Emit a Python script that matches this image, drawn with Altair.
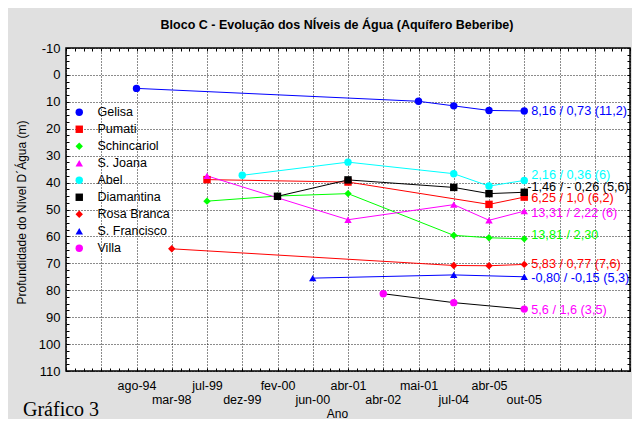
import json
import altair as alt
import pandas as pd

# ---------------- data ----------------
x_labels = ["ago-94", "mar-98", "jul-99", "dez-99", "fev-00", "jun-00",
            "abr-01", "abr-02", "mai-01", "jul-04", "abr-05", "out-05"]

series = ["Gelisa", "Pumati", "Schincariol", "S. Joana", "Abel",
          "Diamantina", "Rosa Branca", "S. Francisco", "Villa"]
marker_colors = ["#0000ff", "#ff0000", "#00ff00", "#ff00ff", "#00ffff",
                 "#000000", "#ff0000", "#0000ff", "#ff00ff"]
line_colors = ["#0000ff", "#ff0000", "#00ff00", "#ff00ff", "#00ffff",
               "#000000", "#ff0000", "#0000ff", "#000000"]
shapes = ["circle", "square", "diamond", "triangle-up", "circle",
          "square", "diamond", "triangle-up", "circle"]

gelisa_dates = ["ago-94", "mai-01", "jul-04", "abr-05", "out-05"]
gelisa_vals = [5.0, 9.8, 11.5, 13.2, 13.4]
pumati_dates = ["jul-99", "abr-01", "abr-05", "out-05"]
pumati_vals = [38.9, 39.8, 48.1, 45.4]
schin_dates = ["jul-99", "fev-00", "abr-01", "jul-04", "abr-05", "out-05"]
schin_vals = [46.9, 45.0, 44.1, 59.6, 60.5, 60.9]
joana_dates = ["jul-99", "abr-01", "jul-04", "abr-05", "out-05"]
joana_vals = [37.5, 53.8, 48.2, 54.0, 50.6]
abel_dates = ["dez-99", "abr-01", "jul-04", "abr-05", "out-05"]
abel_vals = [37.3, 32.4, 36.7, 41.3, 39.2]
diam_dates = ["fev-00", "abr-01", "jul-04", "abr-05", "out-05"]
diam_vals = [45.1, 39.0, 41.8, 44.1, 43.6]
rosa_dates = ["mar-98", "jul-04", "abr-05", "out-05"]
rosa_vals = [64.6, 70.8, 70.9, 70.4]
sfran_dates = ["jun-00", "jul-04", "out-05"]
sfran_vals = [75.5, 74.3, 75.0]
villa_dates = ["abr-02", "jul-04", "out-05"]
villa_vals = [81.3, 84.6, 87.0]

end_labels = ["8,16 / 0,73 (11,2)", "6,25 / 1,0 (6,2)", "13,81 / 2,30",
              "13,31 / 2,22 (6)", "2,16 / 0,36 (6)", "-1,46 / - 0,26 (5,6)",
              "5,83 / 0,77 (7,6)", "-0,80 / -0,15 (5,3)", "5,6 / 1,6 (3,5)"]
end_label_vals = [13.4, 45.9, 59.6, 51.3, 37.3, 41.8, 70.4, 75.4, 87.2]

# ---------------- tables ----------------
pos = {lab: i + 2 for i, lab in enumerate(x_labels)}
all_dates = [gelisa_dates, pumati_dates, schin_dates, joana_dates, abel_dates,
             diam_dates, rosa_dates, sfran_dates, villa_dates]
all_vals = [gelisa_vals, pumati_vals, schin_vals, joana_vals, abel_vals,
            diam_vals, rosa_vals, sfran_vals, villa_vals]

rows = []
for s, lc, ds, vs in zip(series, line_colors, all_dates, all_vals):
    for d, v in zip(ds, vs):
        rows.append({"series": s, "k": pos[d], "value": v, "lc": lc})
df = pd.DataFrame(rows)

lab_df = pd.DataFrame({"series": series, "text": end_labels,
                       "value": end_label_vals, "col": marker_colors,
                       "k": [pos["out-05"]] * len(series)})
lab_main = lab_df[lab_df["series"] != "Diamantina"]
lab_diam = lab_df[lab_df["series"] == "Diamantina"]

top_row = [x_labels[k - 2] if 2 <= k <= 13 and k % 2 == 0 else "" for k in range(17)]
bottom_df = pd.DataFrame({"k": [pos[l] for l in x_labels[1::2]],
                          "lab": x_labels[1::2]})

W, H = 564, 323
FONT = "Liberation Sans"
GRID = dict(grid=True, gridColor="#000000", gridDash=[1, 2], gridWidth=1,
            gridOpacity=0.9)

xscale = alt.Scale(domain=[0, 16], nice=False, zero=False)
yscale = alt.Scale(domain=[-10, 110], nice=False, zero=False, reverse=True)

x_main = alt.X("k:Q", scale=xscale, axis=alt.Axis(
    values=list(range(17)), labelExpr=json.dumps(top_row) + "[datum.value]",
    ticks=False, domain=False, labelFontSize=12.5, labelFont=FONT,
    labelColor="#000", labelPadding=8, labelFlush=False, title="Ano",
    titleFont=FONT, titleFontSize=12, titleFontWeight="normal",
    titleX=271, titleY=46, titleBaseline="alphabetic", **GRID))
y_main = alt.Y("value:Q", scale=yscale, axis=alt.Axis(
    values=list(range(-10, 111, 10)), labelExpr="'' + datum.value",
    ticks=False, domain=False,
    labelFontSize=13, labelFont=FONT, labelColor="#000", labelPadding=6,
    title="Profundidade do Nível D´Água (m)", titleFont=FONT,
    titleFontSize=12, titleFontWeight="normal", titleX=-41, titleY=164,
    titleBaseline="alphabetic", **GRID))

x_plain = alt.X("k:Q", scale=xscale, axis=None)
y_plain = alt.Y("value:Q", scale=yscale, axis=None)

lines = alt.Chart(df).mark_line(strokeWidth=1).encode(
    x=x_main, y=y_main,
    stroke=alt.Stroke("lc:N", scale=None),
    detail="series:N",
    order=alt.Order("k:Q"))

legend = alt.Legend(orient="none", legendX=7, legendY=58, title=None,
                    labelFont=FONT, labelFontSize=12.5, labelColor="#000",
                    symbolSize=55, labelOffset=12, rowPadding=4.0, padding=0,
                    symbolStrokeWidth=0)

points = alt.Chart(df).mark_point(filled=True, size=55, opacity=1).encode(
    x=x_plain, y=y_plain,
    color=alt.Color("series:N", sort=series,
                    scale=alt.Scale(domain=series, range=marker_colors),
                    legend=legend),
    shape=alt.Shape("series:N", sort=series,
                    scale=alt.Scale(domain=series, range=shapes),
                    legend=legend))

texts = alt.Chart(lab_main).mark_text(align="left", baseline="middle", dx=7,
                                      font=FONT, fontSize=12.7).encode(
    x=x_plain, y=y_plain, text="text:N",
    color=alt.Color("col:N", scale=None))

texts_diam = alt.Chart(lab_diam).mark_text(align="left", baseline="middle", dx=3,
                                           font=FONT, fontSize=12.7).encode(
    x=x_plain, y=y_plain, text="text:N",
    color=alt.Color("col:N", scale=None))

bottom_labels = alt.Chart(bottom_df).mark_text(
    baseline="middle", font=FONT, fontSize=12.5, color="#000").encode(
    x=x_plain, y=alt.value(H + 29), text="lab:N")

minor_x = [i / 4 for i in range(65)]
minor_y = [-10 + i * 2.5 for i in range(49)]
MINOR = dict(labels=False, grid=False, domain=False, ticks=True, tickSize=3,
             tickColor="#000", tickWidth=1, offset=-3, title=None)

ticks_a = alt.Chart(df).mark_point(opacity=0).encode(
    x=alt.X("k:Q", scale=xscale, axis=alt.Axis(orient="bottom", values=minor_x, **MINOR)),
    y=alt.Y("value:Q", scale=yscale, axis=alt.Axis(orient="left", values=minor_y, **MINOR)))
ticks_b = alt.Chart(df).mark_point(opacity=0).encode(
    x=alt.X("k:Q", scale=xscale, axis=alt.Axis(orient="top", values=minor_x, **MINOR)),
    y=alt.Y("value:Q", scale=yscale, axis=alt.Axis(orient="right", values=minor_y, **MINOR)))

grafico = alt.Chart(pd.DataFrame({"t": ["Gráfico 3"]})).mark_text(
    align="left", baseline="alphabetic", font="Liberation Serif",
    fontSize=20, color="#000").encode(
    x=alt.value(-43), y=alt.value(H + 45), text="t:N")

chart = alt.layer(lines, ticks_a, ticks_b, points, texts, texts_diam,
                  bottom_labels, grafico).resolve_axis(
    x="independent", y="independent").properties(
    width=W, height=H,
    autosize=alt.AutoSizeParams(type="none"),
    padding={"left": 58, "top": 40, "right": 2, "bottom": 48},
    background="#e0e0e0",
    title=alt.TitleParams(
        "Bloco C - Evolução dos NÍveis de Água (Aquífero Beberibe)",
        font=FONT, fontSize=12.5, fontWeight="bold", color="#000",
        anchor="middle", frame="group", dx=-11, offset=11),
).configure_view(stroke="#000", strokeWidth=1.5, fill="#ffffff")

chart.save("out.html", embed_options={"renderer": "svg", "actions": False})
